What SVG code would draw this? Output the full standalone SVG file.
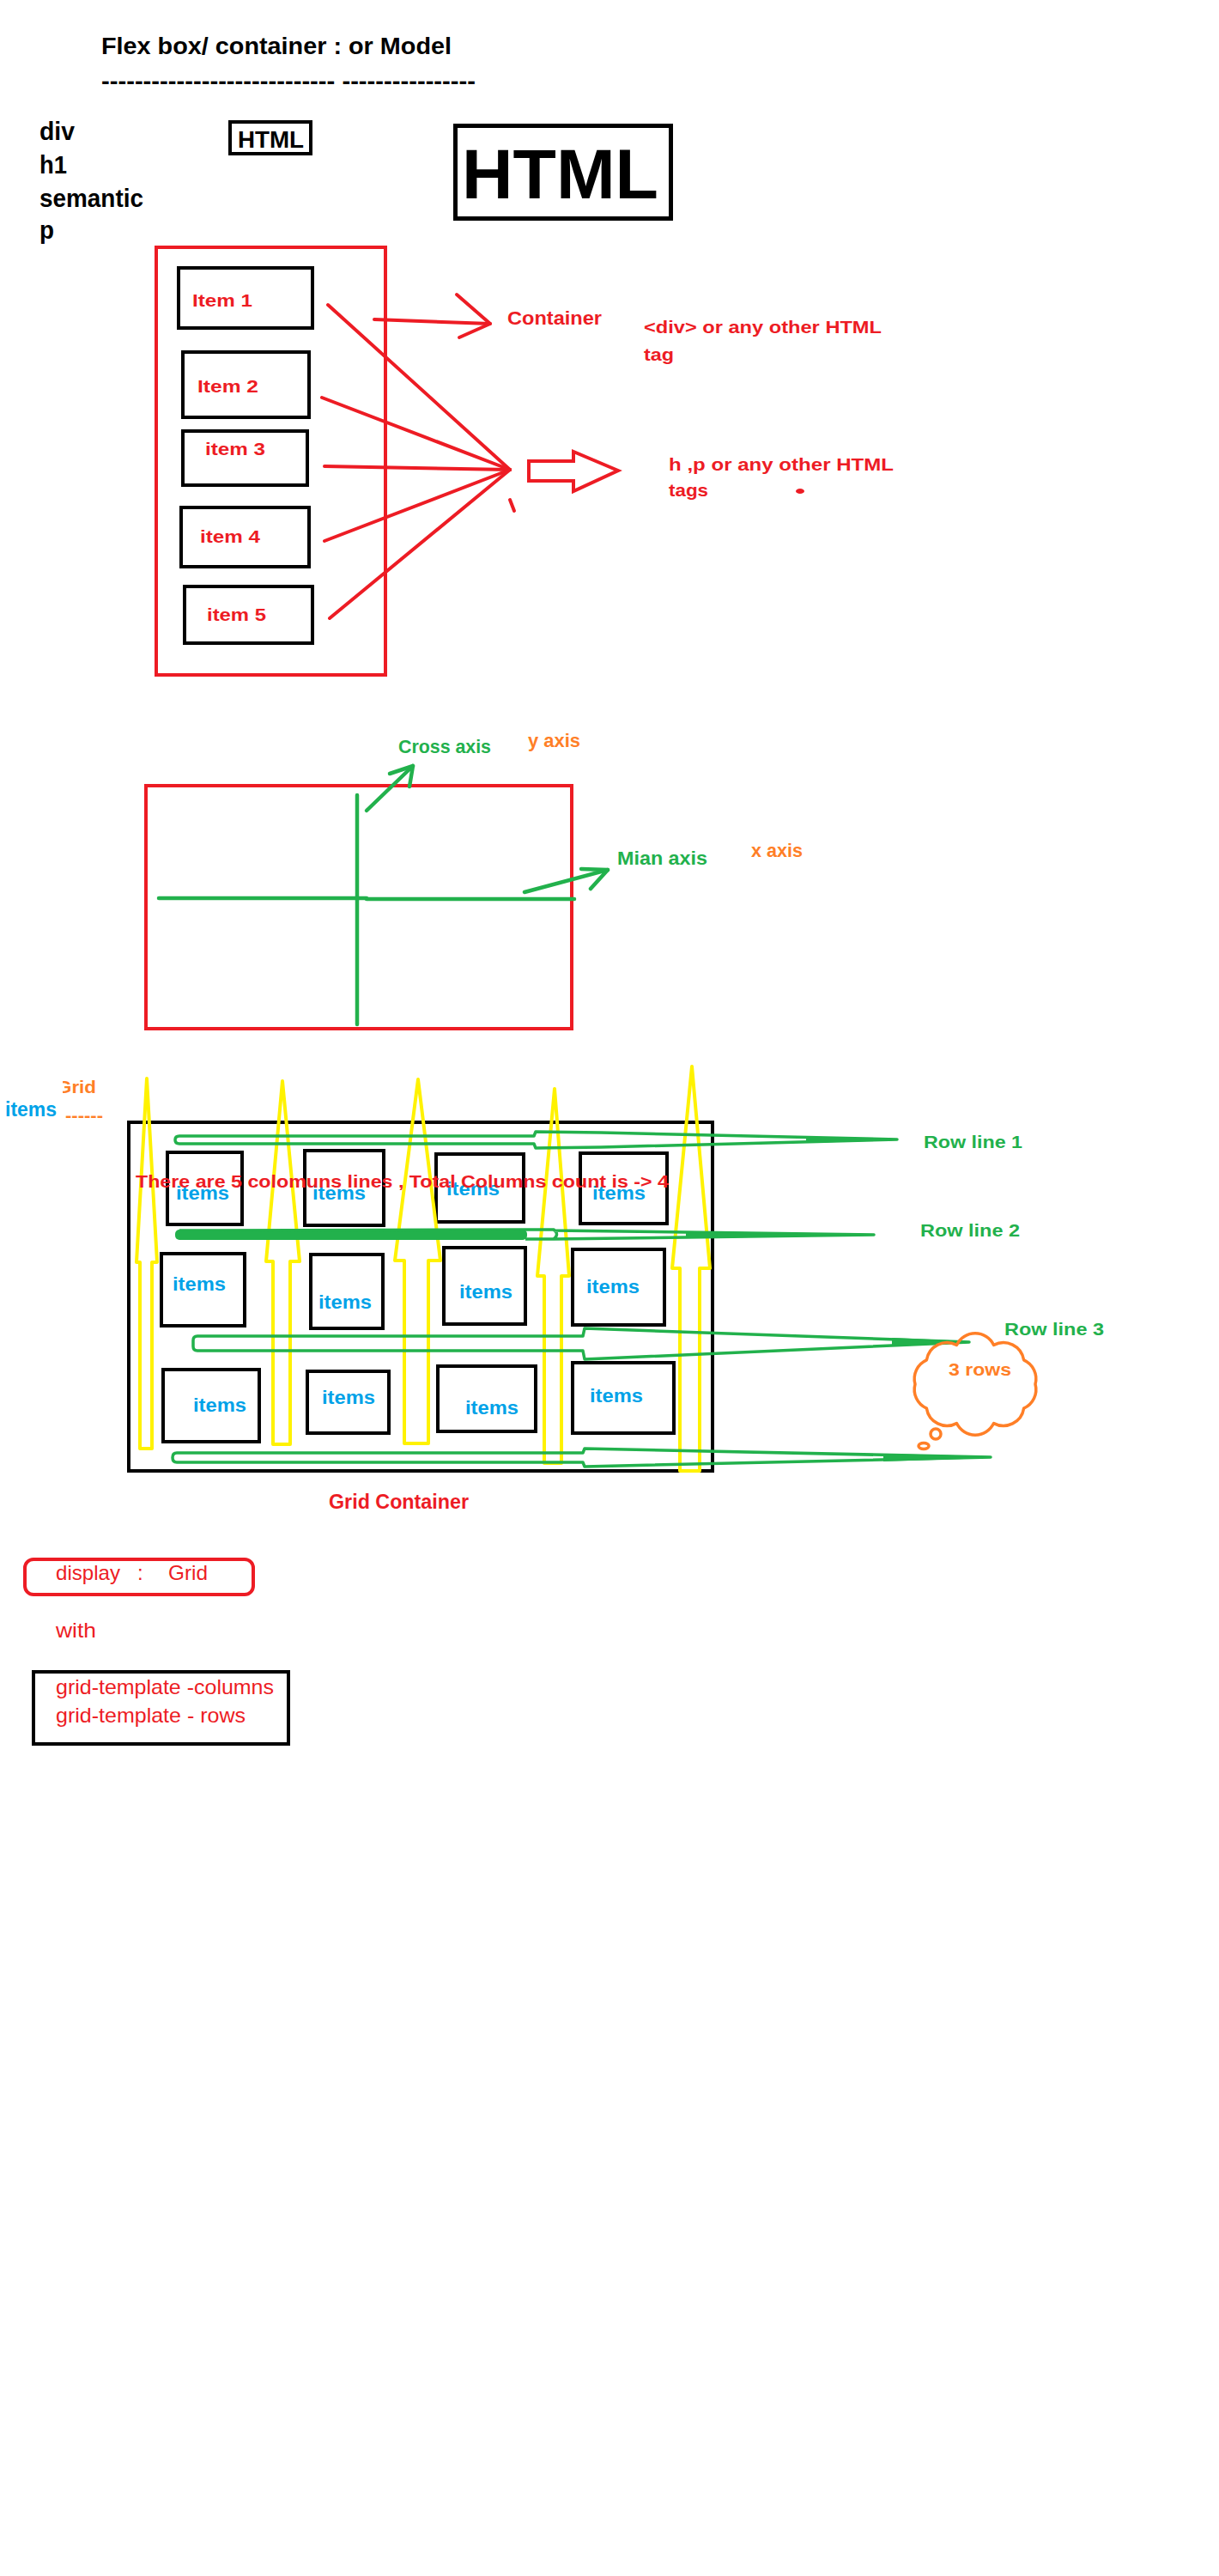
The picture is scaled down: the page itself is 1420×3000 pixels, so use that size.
<svg xmlns="http://www.w3.org/2000/svg" width="1420" height="3000" viewBox="0 0 1420 3000">
<style>
.t{font-family:"Liberation Sans",Arial,sans-serif;font-weight:bold}
.n{font-weight:normal}
.k{fill:#000}
.r{fill:#ED1C24}
.g{fill:#22B14C}
.o{fill:#FF7F27}
.b{fill:#00A2E8}
.box{fill:none;stroke:#000;stroke-width:4}
.rbox{fill:none;stroke:#ED1C24;stroke-width:4}
.rl{fill:none;stroke:#ED1C24;stroke-width:4;stroke-linecap:round;stroke-linejoin:round}
.gl{fill:none;stroke:#22B14C;stroke-width:4.5;stroke-linecap:round;stroke-linejoin:round}
.gr{fill:none;stroke:#22B14C;stroke-width:3.5;stroke-linejoin:round}
.yl{fill:none;stroke:#FFF200;stroke-width:4;stroke-linejoin:round}
.cl{fill:none;stroke:#FF7F27;stroke-width:3.5;stroke-linejoin:round}
</style>
<rect width="1420" height="3000" fill="#fff"/>

<g id="header">
<text class="t k" x="118" y="63" font-size="28" textLength="408" lengthAdjust="spacingAndGlyphs">Flex box/ container :  or Model</text>
<text class="t k" x="118" y="104" font-size="28" textLength="436" lengthAdjust="spacingAndGlyphs">---------------------------- ----------------</text>
</g>
<g id="tag-list">
<text class="t k" x="46" y="163" font-size="30" textLength="41" lengthAdjust="spacingAndGlyphs">div</text>
<text class="t k" x="46" y="202" font-size="30" textLength="32" lengthAdjust="spacingAndGlyphs">h1</text>
<text class="t k" x="46" y="241" font-size="30" textLength="121" lengthAdjust="spacingAndGlyphs">semantic</text>
<text class="t k" x="46" y="278" font-size="30" textLength="17" lengthAdjust="spacingAndGlyphs">p</text>
</g>
<g id="html-small">
<rect class="box" x="268" y="142" width="94" height="37"/>
<text class="t k" x="277" y="172" font-size="28" textLength="77" lengthAdjust="spacingAndGlyphs">HTML</text>
</g>
<g id="html-large">
<rect x="530.5" y="146.5" width="251" height="108" fill="none" stroke="#000" stroke-width="5"/>
<text class="t k" x="538" y="231" font-size="82" textLength="229" lengthAdjust="spacingAndGlyphs">HTML</text>
</g>

<g id="flex-container">
<rect class="rbox" x="182" y="288" width="267" height="498"/>
</g>
<g id="item1"><rect class="box" x="208" y="312" width="156" height="70"/><text class="t r" x="224" y="357" font-size="21" textLength="70" lengthAdjust="spacingAndGlyphs">Item 1</text></g>
<g id="item2"><rect class="box" x="213" y="410" width="147" height="76"/><text class="t r" x="230" y="457" font-size="21" textLength="71" lengthAdjust="spacingAndGlyphs">Item 2</text></g>
<g id="item3"><rect class="box" x="213" y="502" width="145" height="63"/><text class="t r" x="239" y="530" font-size="21" textLength="70" lengthAdjust="spacingAndGlyphs">item 3</text></g>
<g id="item4"><rect class="box" x="211" y="591" width="149" height="69"/><text class="t r" x="233" y="632" font-size="21" textLength="70" lengthAdjust="spacingAndGlyphs">item 4</text></g>
<g id="item5"><rect class="box" x="215" y="683" width="149" height="66"/><text class="t r" x="241" y="723" font-size="21" textLength="69" lengthAdjust="spacingAndGlyphs">item 5</text></g>

<g id="container-label">
<text class="t r" x="591" y="378" font-size="22" textLength="110" lengthAdjust="spacingAndGlyphs">Container</text>
</g>
<g id="div-label">
<text class="t r" x="750" y="388" font-size="21" textLength="277" lengthAdjust="spacingAndGlyphs">&lt;div&gt; or any other HTML</text>
<text class="t r" x="750" y="420" font-size="21" textLength="35" lengthAdjust="spacingAndGlyphs">tag</text>
</g>
<g id="tags-label">
<text class="t r" x="779" y="548" font-size="21" textLength="262" lengthAdjust="spacingAndGlyphs">h  ,p or any other HTML</text>
<text class="t r" x="779" y="578" font-size="21" textLength="46" lengthAdjust="spacingAndGlyphs">tags</text>
<ellipse cx="932" cy="572" rx="5" ry="3" fill="#ED1C24"/>
</g>
<g id="hollow-arrow">
<path d="M616,537 L668,537 L668,526 L720,548 L668,572 L668,560 L616,560 Z" fill="#fff" stroke="#ED1C24" stroke-width="4" stroke-linejoin="miter"/>
</g>

<g id="axis-box">
<rect class="rbox" x="170" y="915" width="496" height="283"/>
<text class="t g" x="464" y="877" font-size="22" textLength="108" lengthAdjust="spacingAndGlyphs">Cross axis</text>
<text class="t o" x="615" y="870" font-size="22" textLength="61" lengthAdjust="spacingAndGlyphs">y axis</text>
<text class="t g" x="719" y="1007" font-size="22" textLength="105" lengthAdjust="spacingAndGlyphs">Mian axis</text>
<text class="t o" x="875" y="998" font-size="22" textLength="60" lengthAdjust="spacingAndGlyphs">x axis</text>
</g>

<g id="grid-container">
<rect class="box" x="150" y="1307" width="680" height="406"/>
</g>
<g id="grid-label">
<text class="t o" x="66" y="1273" font-size="21" textLength="46" lengthAdjust="spacingAndGlyphs">Grid</text>
<rect x="60" y="1252" width="13" height="24" fill="#fff"/>
<text class="t b" x="6" y="1300" font-size="23" textLength="60" lengthAdjust="spacingAndGlyphs">items</text>
<text class="t o" x="76" y="1306" font-size="21" textLength="44" lengthAdjust="spacingAndGlyphs">------</text>
</g>

<g id="grid-items">
<g id="gi-1-1"><rect class="box" x="195" y="1342" width="87" height="84"/><text class="t b" x="205" y="1397" font-size="22" textLength="62" lengthAdjust="spacingAndGlyphs">items</text></g>
<g id="gi-1-2"><rect class="box" x="355" y="1340" width="92" height="87"/><text class="t b" x="364" y="1397" font-size="22" textLength="62" lengthAdjust="spacingAndGlyphs">items</text></g>
<g id="gi-1-3"><rect class="box" x="508" y="1344" width="102" height="79"/><text class="t b" x="520" y="1392" font-size="22" textLength="62" lengthAdjust="spacingAndGlyphs">items</text></g>
<g id="gi-1-4"><rect class="box" x="676" y="1343" width="101" height="82"/><text class="t b" x="690" y="1397" font-size="22" textLength="62" lengthAdjust="spacingAndGlyphs">items</text></g>
<g id="gi-2-1"><rect class="box" x="188" y="1460" width="97" height="84"/><text class="t b" x="201" y="1503" font-size="22" textLength="62" lengthAdjust="spacingAndGlyphs">items</text></g>
<g id="gi-2-2"><rect class="box" x="362" y="1461" width="84" height="86"/><text class="t b" x="371" y="1524" font-size="22" textLength="62" lengthAdjust="spacingAndGlyphs">items</text></g>
<g id="gi-2-3"><rect class="box" x="517" y="1453" width="95" height="89"/><text class="t b" x="535" y="1512" font-size="22" textLength="62" lengthAdjust="spacingAndGlyphs">items</text></g>
<g id="gi-2-4"><rect class="box" x="667" y="1455" width="107" height="88"/><text class="t b" x="683" y="1506" font-size="22" textLength="62" lengthAdjust="spacingAndGlyphs">items</text></g>
<g id="gi-3-1"><rect class="box" x="190" y="1595" width="112" height="84"/><text class="t b" x="225" y="1644" font-size="22" textLength="62" lengthAdjust="spacingAndGlyphs">items</text></g>
<g id="gi-3-2"><rect class="box" x="358" y="1597" width="95" height="72"/><text class="t b" x="375" y="1635" font-size="22" textLength="62" lengthAdjust="spacingAndGlyphs">items</text></g>
<g id="gi-3-3"><rect class="box" x="510" y="1591" width="114" height="76"/><text class="t b" x="542" y="1647" font-size="22" textLength="62" lengthAdjust="spacingAndGlyphs">items</text></g>
<g id="gi-3-4"><rect class="box" x="667" y="1587" width="118" height="82"/><text class="t b" x="687" y="1633" font-size="22" textLength="62" lengthAdjust="spacingAndGlyphs">items</text></g>
</g>

<g id="connectors">
<!-- flex fan lines -->
<path class="rl" d="M382,355 L594,547"/>
<path class="rl" d="M375,463 L594,547"/>
<path class="rl" d="M378,543 L594,547"/>
<path class="rl" d="M378,630 L594,547"/>
<path class="rl" d="M384,720 L594,547"/>
<path class="rl" d="M594,582 L599,595"/>
<!-- container arrow -->
<path class="rl" d="M436,372 L571,377"/>
<path class="rl" d="M532,343 L571,377 L535,393"/>
<!-- axes -->
<path class="gl" d="M416,926 L416,1193"/>
<path class="gl" d="M185,1046 L427,1046"/>
<path class="gl" d="M427,1047 L669,1047"/>
<path class="gl" d="M427,944 L481,892"/>
<path class="gl" d="M454,901 L481,892 L477,916"/>
<path class="gl" d="M611,1039 L708,1013"/>
<path class="gl" d="M677,1012 L708,1013 L688,1035"/>
<!-- yellow column arrows -->
<path class="yl" d="M171,1256 L183,1470 L177,1470 L177,1687 L163,1687 L163,1470 L159,1470 Z"/>
<path class="yl" d="M329,1259 L349,1469 L338,1469 L338,1682 L318,1682 L318,1469 L310,1469 Z"/>
<path class="yl" d="M487,1257 L513,1468 L499,1468 L499,1681 L471,1681 L471,1468 L460,1468 Z"/>
<path class="yl" d="M646,1268 L663,1486 L654,1486 L654,1704 L634,1704 L634,1486 L626,1486 Z"/>
<path class="yl" d="M806,1242 L827,1477 L815,1477 L815,1713 L792,1713 L792,1477 L783,1477 Z"/>
<!-- green row lines -->
<path class="gr" d="M209,1323 L622,1323 L624,1318 L700,1319 L1045,1327 L700,1336 L624,1337 L622,1332 L209,1332 Q204,1332 204,1327.5 Q204,1323 209,1323 Z"/>
<path d="M940,1325 L1045,1327 L940,1330 Z" fill="#22B14C" stroke="#22B14C" stroke-width="2"/>
<rect x="204" y="1432" width="410" height="12" rx="5" fill="#22B14C"/>
<path class="gr" d="M209,1433 L612,1432 L645,1432 Q652,1437.5 645,1443 L612,1443 M645,1433 L1018,1438 L645,1443"/>
<path d="M800,1435 L1018,1438 L800,1441 Z" fill="#22B14C" stroke="#22B14C" stroke-width="2"/>
<path class="gr" d="M230,1556 L679,1556 L681,1547 L1129,1563 L681,1583 L679,1573 L230,1573 Q225,1573 225,1568 L225,1561 Q225,1556 230,1556 Z"/>
<path d="M1040,1559 L1129,1563 L1040,1567 Z" fill="#22B14C" stroke="#22B14C" stroke-width="2"/>
<path class="gr" d="M206,1692 L679,1692 L681,1687 L1154,1697 L681,1708 L679,1703 L206,1703 Q201,1703 201,1697.5 Q201,1692 206,1692 Z"/>
<path d="M1030,1694 L1154,1697 L1030,1701 Z" fill="#22B14C" stroke="#22B14C" stroke-width="2"/>
</g>

<g id="columns-note">
<text class="t r" x="158" y="1383" font-size="21" textLength="621" lengthAdjust="spacingAndGlyphs">There are 5 colomuns lines , Total Columns count is -&gt; 4</text>
</g>

<g id="row-labels">
<text class="t g" x="1076" y="1337" font-size="21" textLength="115" lengthAdjust="spacingAndGlyphs">Row line 1</text>
<text class="t g" x="1072" y="1440" font-size="21" textLength="116" lengthAdjust="spacingAndGlyphs">Row line 2</text>
<text class="t g" x="1170" y="1555" font-size="21" textLength="116" lengthAdjust="spacingAndGlyphs">Row line 3</text>
</g>

<g id="rows-cloud">
<path class="cl" d="M1066,1612 A24,24 0 0 1 1079.4,1583.8 A24,24 0 0 1 1114.4,1566.4 A24,24 0 0 1 1157.6,1566.4 A24,24 0 0 1 1192.6,1583.8 A24,24 0 0 1 1206,1612 A24,24 0 0 1 1192.6,1640.2 A24,24 0 0 1 1157.6,1657.6 A24,24 0 0 1 1114.4,1657.6 A24,24 0 0 1 1079.4,1640.2 A24,24 0 0 1 1066,1612 Z"/>
<circle class="cl" cx="1090" cy="1670" r="6"/>
<ellipse class="cl" cx="1076" cy="1684" rx="6" ry="3.5"/>
<text class="t o" x="1105" y="1602" font-size="21" textLength="73" lengthAdjust="spacingAndGlyphs">3 rows</text>
</g>

<g id="grid-container-label">
<text class="t r" x="383" y="1757" font-size="23" textLength="163" lengthAdjust="spacingAndGlyphs">Grid Container</text>
</g>
<g id="display-grid">
<rect x="29" y="1816" width="266" height="41" rx="10" fill="none" stroke="#ED1C24" stroke-width="4"/>
<text class="t n r" x="65" y="1840" font-size="24" textLength="75" lengthAdjust="spacingAndGlyphs">display</text>
<text class="t n r" x="160" y="1840" font-size="24">:</text>
<text class="t n r" x="196" y="1840" font-size="24" textLength="46" lengthAdjust="spacingAndGlyphs">Grid</text>
</g>
<g id="with-label">
<text class="t n r" x="65" y="1907" font-size="24" textLength="47" lengthAdjust="spacingAndGlyphs">with</text>
</g>
<g id="template-box">
<rect class="box" x="39" y="1947" width="297" height="84"/>
<text class="t n r" x="65" y="1973" font-size="24" textLength="254" lengthAdjust="spacingAndGlyphs">grid-template -columns</text>
<text class="t n r" x="65" y="2006" font-size="24" textLength="221" lengthAdjust="spacingAndGlyphs">grid-template - rows</text>
</g>
</svg>
